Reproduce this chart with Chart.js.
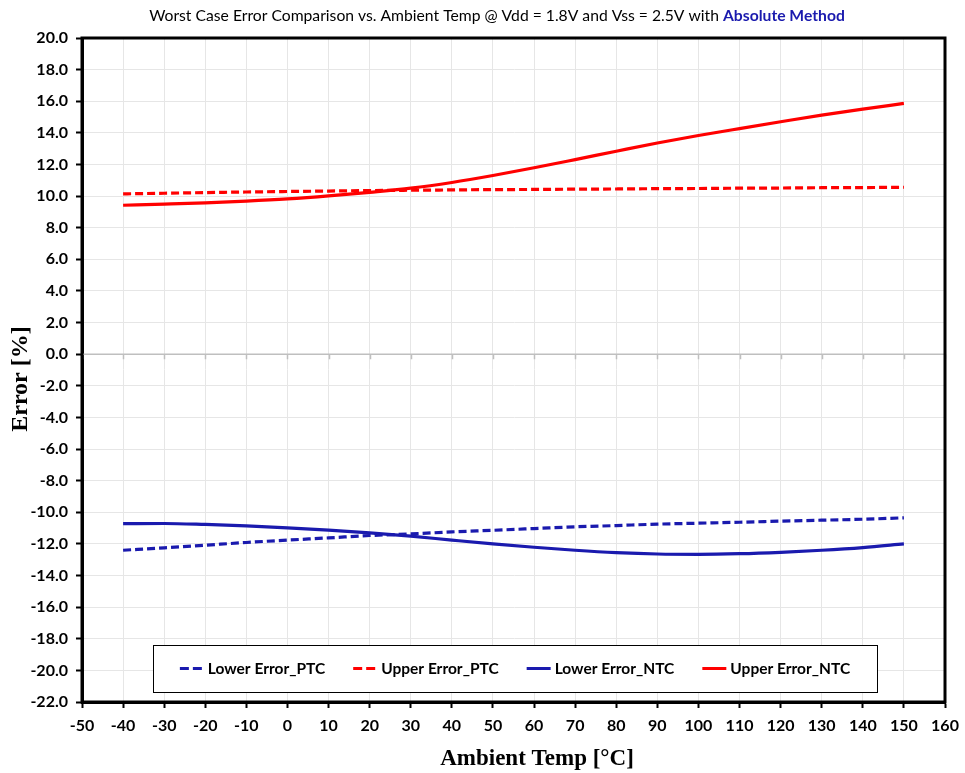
<!DOCTYPE html>
<html>
<head>
<meta charset="utf-8">
<script src="https://cdn.jsdelivr.net/npm/chart.js@4.4.0/dist/chart.umd.min.js"></script>
<style>
html,body{margin:0;padding:0;background:#fff;}
#wrap{width:965px;height:773px;position:relative;}
</style>
</head>
<body>
<div id="wrap"><canvas id="c" width="965" height="773"></canvas></div>
<script>
const titleMain = 'Worst Case Error Comparison vs. Ambient Temp @ Vdd = 1.8V and Vss = 2.5V with ';
const titleBold = 'Absolute Method';
const xTitle = 'Ambient Temp [\u00B0C]';
const yTitle = 'Error [%]';

const temps = [-40,-30,-20,-10,0,10,20,30,40,50,60,70,80,90,100,110,120,130,140,150];
const lowerPTC = [-12.40,-12.25,-12.08,-11.91,-11.76,-11.62,-11.47,-11.37,-11.24,-11.14,-11.03,-10.92,-10.84,-10.75,-10.69,-10.63,-10.56,-10.50,-10.44,-10.35];
const upperPTC = [10.14,10.18,10.22,10.26,10.29,10.32,10.35,10.37,10.39,10.41,10.42,10.44,10.45,10.47,10.48,10.50,10.51,10.53,10.54,10.56];
const lowerNTC = [-10.72,-10.71,-10.77,-10.86,-10.98,-11.13,-11.30,-11.51,-11.76,-12.00,-12.21,-12.40,-12.55,-12.64,-12.66,-12.62,-12.53,-12.40,-12.23,-12.00];
const upperNTC = [9.42,9.49,9.57,9.68,9.82,10.01,10.24,10.50,10.86,11.30,11.79,12.31,12.84,13.36,13.83,14.27,14.70,15.12,15.50,15.86];

const seriesNames = ['Lower Error_PTC','Upper Error_PTC','Lower Error_NTC','Upper Error_NTC'];
const seriesColors = ['#1A1AAE','#FF0000','#1A1AAE','#FF0000'];
const seriesDashed = [true,true,false,false];
const seriesValues = [lowerPTC, upperPTC, lowerNTC, upperNTC];

const xMin = -50, xMax = 160, xStep = 10;
const yMin = -22, yMax = 20, yStep = 2;

const tickFont = {family:'Lato', size:16, weight:'bold'};
const DASH = [8,4];

const datasets = seriesNames.map((name,i)=>({
  label: name,
  data: temps.map((t,j)=>({x:t, y:seriesValues[i][j]})),
  borderColor: seriesColors[i],
  backgroundColor: seriesColors[i],
  borderWidth: 3.2,
  borderDash: seriesDashed[i] ? DASH : [],
  pointRadius: 0,
  tension: 0.4,
  cubicInterpolationMode: 'monotone',
  fill: false
}));

const decorPlugin = {
  id: 'decor',
  beforeDatasetsDraw(chart){
    const ctx = chart.ctx, a = chart.chartArea, xs = chart.scales.x, ys = chart.scales.y;
    const y0 = ys.getPixelForValue(0);
    ctx.save();
    ctx.strokeStyle = '#BFBFBF';
    ctx.lineWidth = 1.5;
    ctx.beginPath();
    ctx.moveTo(a.left, y0); ctx.lineTo(a.right, y0);
    for (let v = xMin; v <= xMax; v += xStep){
      const px = Math.round(xs.getPixelForValue(v)) + 0.5;
      ctx.moveTo(px, y0); ctx.lineTo(px, y0 + 5);
    }
    ctx.stroke();
    ctx.restore();
  },
  afterDraw(chart){
    const ctx = chart.ctx, a = chart.chartArea;
    ctx.save();
    ctx.strokeStyle = '#000';
    ctx.lineWidth = 3;
    ctx.strokeRect(a.left, a.top, a.right - a.left, a.bottom - a.top);

    // title
    const tSize = 15.7;
    ctx.textBaseline = 'middle';
    ctx.font = tSize + 'px Lato';
    const w1 = ctx.measureText(titleMain).width;
    ctx.font = 'bold ' + tSize + 'px Lato';
    const w2 = ctx.measureText(titleBold).width;
    const tx = 497 - (w1 + w2)/2;
    ctx.fillStyle = '#000';
    ctx.font = tSize + 'px Lato';
    ctx.textAlign = 'left';
    ctx.fillText(titleMain, tx, 16);
    ctx.fillStyle = '#1A1AAE';
    ctx.font = 'bold ' + tSize + 'px Lato';
    ctx.fillText(titleBold, tx + w1, 16);

    // axis titles
    ctx.fillStyle = '#000';
    ctx.font = 'bold 23px "Liberation Serif"';
    ctx.textAlign = 'center';
    ctx.fillText(xTitle, 537, 759);
    ctx.save();
    ctx.translate(21, 379);
    ctx.rotate(-Math.PI/2);
    ctx.font = 'bold 24px "Liberation Serif"';
    ctx.fillText(yTitle, 0, 0);
    ctx.restore();

    // legend
    const bx = 153, by = 645, bw = 724, bh = 47;
    ctx.fillStyle = '#fff';
    ctx.fillRect(bx, by, bw, bh);
    ctx.strokeStyle = '#000';
    ctx.lineWidth = 1;
    ctx.strokeRect(bx + 0.5, by + 0.5, bw, bh);
    ctx.font = 'bold 15.5px Lato';
    ctx.textAlign = 'left';
    const lineLen = 24, gapT = 4, gapI = 28;
    const widths = chart.data.datasets.map(d => lineLen + gapT + ctx.measureText(d.label).width);
    const total = widths.reduce((s,w)=>s+w,0) + gapI*(widths.length-1);
    let cx = bx + bw/2 - total/2;
    const cy = by + bh/2;
    chart.data.datasets.forEach((d,i)=>{
      ctx.strokeStyle = d.borderColor;
      ctx.lineWidth = 3;
      ctx.setLineDash(d.borderDash.length ? [9,4] : []);
      ctx.beginPath();
      ctx.moveTo(cx, cy); ctx.lineTo(cx + lineLen, cy);
      ctx.stroke();
      ctx.setLineDash([]);
      ctx.fillStyle = '#000';
      ctx.fillText(d.label, cx + lineLen + gapT, cy);
      cx += widths[i] + gapI;
    });
    ctx.restore();
  }
};

new Chart(document.getElementById('c'), {
  type: 'line',
  data: { datasets },
  options: {
    responsive: false,
    animation: false,
    devicePixelRatio: 1,
    layout: { padding: { top: 38, right: 20, left: 0, bottom: 0 } },
    plugins: { legend: { display: false }, title: { display: false }, tooltip: { enabled: false } },
    scales: {
      x: {
        type: 'linear', min: xMin, max: xMax,
        ticks: { stepSize: xStep, font: tickFont, color: '#000', padding: 8, maxRotation: 0, autoSkip: false },
        grid: { color: '#E6E6E6', lineWidth: 1, tickColor: '#000', tickLength: 6, tickWidth: 2 },
        border: { color: '#000', width: 3 },
        afterFit(s){ s.height = 71; s.paddingRight = 0; s.paddingLeft = 0; }
      },
      y: {
        type: 'linear', min: yMin, max: yMax,
        ticks: { stepSize: yStep, font: tickFont, color: '#000', padding: 8, autoSkip: false,
                 callback: v => Number(v).toFixed(1) },
        grid: { color: c => c.tick && c.tick.value === 0 ? 'rgba(0,0,0,0)' : '#E6E6E6', lineWidth: 1, tickColor: '#000', tickLength: 6, tickWidth: 2 },
        border: { color: '#000', width: 3 },
        afterFit(s){ s.width = 82; s.paddingTop = 0; s.paddingBottom = 0; }
      }
    }
  },
  plugins: [decorPlugin]
});
</script>
</body>
</html>
